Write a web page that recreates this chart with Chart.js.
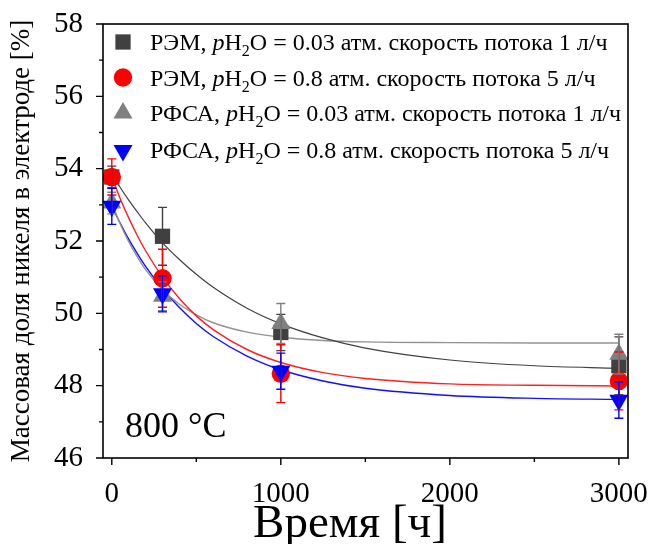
<!DOCTYPE html>
<html><head><meta charset="utf-8">
<script src="https://cdn.jsdelivr.net/npm/chart.js@4.4.1/dist/chart.umd.min.js"></script>
<style>html,body{margin:0;padding:0;background:#fff}</style>
</head><body>
<canvas id="c" width="651" height="544"></canvas>
<script>
// ---- data ----
const timeH = [0, 300, 1000, 3000];
const sem003 = [53.77, 52.13, 49.47, 48.55];
const sem003Err = [0.3, 0.8, 0.5, 0.8];
const sem08 = [53.77, 50.97, 48.33, 48.13];
const sem08Err = [0.5, 0.8, 0.8, 0.8];
const rfsa003 = [53.05, 50.47, 49.72, 48.87];
const rfsa003Err = [0.3, 0.4, 0.55, 0.55];
const rfsa08 = [52.96, 50.54, 48.40, 47.60];
const rfsa08Err = [0.5, 0.5, 0.5, 0.5];

// fitted curves
const fitX = [0, 50, 100, 150, 200, 300, 400, 500, 600, 800, 1000, 1250, 1500, 2000, 2500, 3000];
const fitSem003 = [53.86, 53.48, 53.13, 52.81, 52.50, 51.95, 51.49, 51.08, 50.72, 50.14, 49.71, 49.32, 49.04, 48.71, 48.55, 48.48];
const fitSem08 = [53.77, 53.17, 52.64, 52.16, 51.73, 51.00, 50.41, 49.93, 49.55, 49.00, 48.64, 48.36, 48.20, 48.05, 48.01, 47.99];
const fitRfsa003 = [53.04, 52.47, 51.98, 51.57, 51.21, 50.65, 50.25, 49.96, 49.74, 49.48, 49.34, 49.25, 49.21, 49.19, 49.18, 49.18];
const fitRfsa08 = [52.96, 52.49, 52.05, 51.66, 51.30, 50.68, 50.16, 49.72, 49.36, 48.82, 48.44, 48.13, 47.93, 47.73, 47.65, 47.62];

const xTicks = [0, 1000, 2000, 3000];
const xMinorTicks = [500, 1500, 2500];
const yTicks = [46, 48, 50, 52, 54, 56, 58];
const yMinorTicks = [47, 49, 51, 53, 55, 57];

const legendPrefix = ['РЭМ, ', 'РЭМ, ', 'РФСА, ', 'РФСА, '];
const legendSuffix = ['O = 0.03 атм. скорость потока 1 л/ч', 'O = 0.8 атм. скорость потока 5 л/ч',
                      'O = 0.03 атм. скорость потока 1 л/ч', 'O = 0.8 атм. скорость потока 5 л/ч'];
const xTitle = 'Время [ч]';
const yTitle = 'Массовая доля никеля в электроде [%]';
const annotationText = '800 °C';

// ---- styles ----
const SERIF = "'Liberation Serif', 'Times New Roman', serif";
const colors = ['#404040', '#ff0000', '#808080', '#0000ff'];
const lineColors = ['#404040', '#ff2020', '#929292', '#1010ff'];
const styles = [
  {pointStyle: 'rect', radius: 10.8, rotation: 0},
  {pointStyle: 'circle', radius: 9.2, rotation: 0},
  {pointStyle: 'triangle', radius: 11, rotation: 0},
  {pointStyle: 'triangle', radius: 11, rotation: 180}
];
const seriesVals = [sem003, sem08, rfsa003, rfsa08];
const seriesErr = [sem003Err, sem08Err, rfsa003Err, rfsa08Err];
const fits = [fitSem003, fitSem08, fitRfsa003, fitRfsa08];

const toXY = (xs, ys) => xs.map((x, i) => ({x: x, y: ys[i]}));

const datasets = [];
fits.forEach((f, i) => {
  datasets.push({
    data: toXY(fitX, f), showLine: true, pointRadius: 0, borderColor: lineColors[i],
    borderWidth: i === 0 ? 1.2 : 1.4, cubicInterpolationMode: 'monotone', fill: false, order: 10
  });
});
seriesVals.forEach((v, i) => {
  datasets.push({
    data: toXY(timeH, v), showLine: false, pointStyle: styles[i].pointStyle,
    pointRadius: styles[i].radius, pointRotation: styles[i].rotation,
    backgroundColor: colors[i], borderColor: colors[i], borderWidth: 0,
    pointHoverRadius: styles[i].radius, order: 4 - i
  });
});

const errorBars = {
  id: 'errorBars',
  afterDatasetsDraw(chart) {
    const ctx = chart.ctx, xs = chart.scales.x, ys = chart.scales.y;
    ctx.save();
    ctx.lineWidth = 1.4;
    seriesVals.forEach((vals, i) => {
      ctx.strokeStyle = colors[i];
      vals.forEach((v, j) => {
        const e = seriesErr[i][j];
        const px = xs.getPixelForValue(timeH[j]);
        const pt = ys.getPixelForValue(v + e), pb = ys.getPixelForValue(v - e);
        ctx.beginPath();
        ctx.moveTo(px, pt); ctx.lineTo(px, pb);
        ctx.moveTo(px - 4.5, pt); ctx.lineTo(px + 4.5, pt);
        ctx.moveTo(px - 4.5, pb); ctx.lineTo(px + 4.5, pb);
        ctx.stroke();
      });
    });
    ctx.restore();
  }
};

function marker(ctx, style, x, y) {
  const r = style.radius;
  ctx.beginPath();
  if (style.pointStyle === 'rect') {
    const s = r * Math.SQRT1_2;
    ctx.rect(x - s, y - s, 2 * s, 2 * s);
  } else if (style.pointStyle === 'circle') {
    ctx.arc(x, y, r, 0, Math.PI * 2);
  } else {
    const dir = style.rotation === 180 ? -1 : 1;
    const hw = r * Math.cos(Math.PI / 6);
    ctx.moveTo(x, y - dir * r);
    ctx.lineTo(x + hw, y + dir * r / 2);
    ctx.lineTo(x - hw, y + dir * r / 2);
    ctx.closePath();
  }
  ctx.fill();
}

const frameAndLegend = {
  id: 'frameAndLegend',
  afterDraw(chart) {
    const ctx = chart.ctx, a = chart.chartArea, xs = chart.scales.x, ys = chart.scales.y;
    ctx.save();
    ctx.strokeStyle = '#000';
    ctx.lineWidth = 1.6;
    ctx.strokeRect(a.left, a.top, a.right - a.left, a.bottom - a.top);
    ctx.lineWidth = 1.4;
    ctx.beginPath();
    xTicks.forEach(v => { const p = xs.getPixelForValue(v); ctx.moveTo(p, a.bottom); ctx.lineTo(p, a.bottom + 7); });
    xMinorTicks.forEach(v => { const p = xs.getPixelForValue(v); ctx.moveTo(p, a.bottom); ctx.lineTo(p, a.bottom + 4); });
    yTicks.forEach(v => { const p = ys.getPixelForValue(v); ctx.moveTo(a.left, p); ctx.lineTo(a.left - 7, p); });
    yMinorTicks.forEach(v => { const p = ys.getPixelForValue(v); ctx.moveTo(a.left, p); ctx.lineTo(a.left - 4, p); });
    ctx.stroke();

    ctx.fillStyle = '#000';
    ctx.textBaseline = 'alphabetic';
    ctx.textAlign = 'center';
    ctx.font = '47px ' + SERIF;
    ctx.fillText(xTitle, 350, 537);

    ctx.textAlign = 'left';
    ctx.font = '36px ' + SERIF;
    ctx.fillText(annotationText, 125, 437);

    const rows = [42, 77.5, 113, 149.5];
    rows.forEach((cy, i) => {
      ctx.fillStyle = colors[i];
      marker(ctx, styles[i], 123, cy + (i === 3 ? 1 : 0));
      ctx.fillStyle = '#000';
      const base = cy + 8;
      let x = 150;
      ctx.font = '24px ' + SERIF;
      ctx.fillText(legendPrefix[i], x, base); x += ctx.measureText(legendPrefix[i]).width;
      ctx.font = 'italic 24px ' + SERIF;
      ctx.fillText('p', x, base); x += ctx.measureText('p').width;
      ctx.font = '24px ' + SERIF;
      ctx.fillText('H', x, base); x += ctx.measureText('H').width;
      ctx.font = '16px ' + SERIF;
      ctx.fillText('2', x, base + 6); x += ctx.measureText('2').width;
      ctx.font = '24px ' + SERIF;
      ctx.fillText(legendSuffix[i], x, base);
    });
    ctx.restore();
  }
};

Chart.defaults.font.family = SERIF;
Chart.defaults.color = '#000';

new Chart(document.getElementById('c'), {
  type: 'scatter',
  data: {datasets: datasets},
  options: {
    responsive: false, animation: false, devicePixelRatio: 1,
    layout: {padding: {top: 24, right: 23, left: 0, bottom: 0}},
    plugins: {legend: {display: false}, tooltip: {enabled: false}},
    scales: {
      x: {
        type: 'linear', min: -52, max: 3054,
        afterBuildTicks: s => { s.ticks = xTicks.map(v => ({value: v})); },
        afterFit: s => { s.height = 86; s.paddingLeft = 0; s.paddingRight = 0; },
        grid: {display: false}, border: {display: false},
        ticks: {font: {size: 29}, padding: 11, maxRotation: 0, autoSkip: false, callback: v => String(v)},
        title: {display: false, text: xTitle}
      },
      y: {
        type: 'linear', min: 46, max: 58,
        afterBuildTicks: s => { s.ticks = yTicks.map(v => ({value: v})); },
        afterFit: s => { s.width = 103; s.paddingTop = 0; s.paddingBottom = 0; },
        grid: {display: false}, border: {display: false},
        ticks: {font: {size: 29}, padding: 12, autoSkip: false, callback: v => String(v)},
        title: {display: true, text: yTitle, font: {size: 27, lineHeight: 1}, padding: {top: 8, bottom: 0}}
      }
    }
  },
  plugins: [errorBars, frameAndLegend]
});
</script>
</body></html>
